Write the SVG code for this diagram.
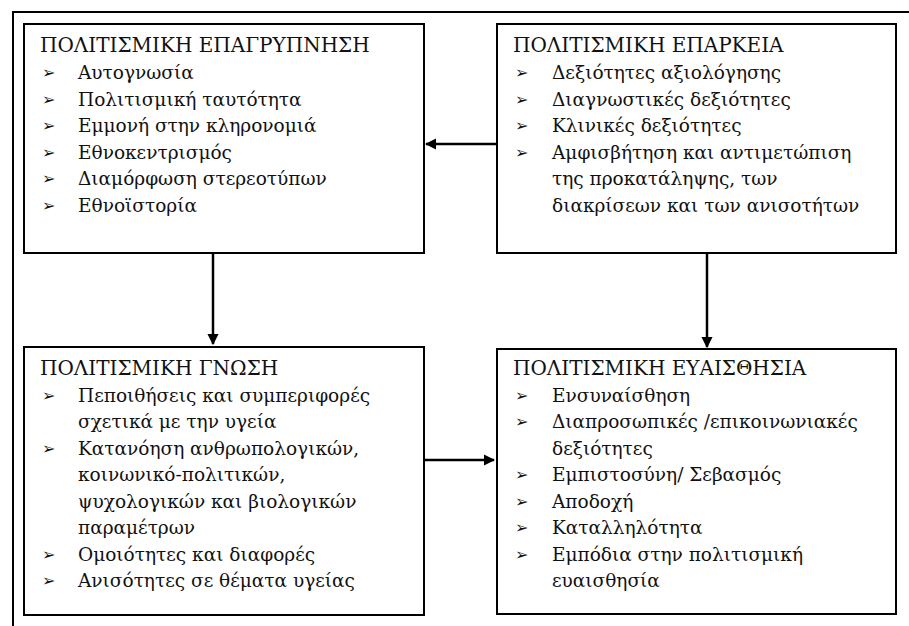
<svg xmlns="http://www.w3.org/2000/svg" width="909" height="626" viewBox="0 0 909 626">
<defs>
<style>
.box{fill:#fff;stroke:#000;stroke-width:2}
.t{font-family:"DejaVu Serif",serif;font-size:18.5px;fill:#111}
.h{font-family:"DejaVu Serif",serif;font-size:20px;fill:#111}
.b{font-family:"DejaVu Sans",sans-serif;font-size:16px;fill:#111}
.c{stroke:#000;stroke-width:2.5;fill:none}
</style>
<marker id="ah" viewBox="0 0 10 10" refX="9" refY="5" markerWidth="4.5" markerHeight="4.5" orient="auto" markerUnits="strokeWidth">
<path d="M0,0 L10,5 L0,10 z" fill="#000"/>
</marker>
</defs>
<rect width="909" height="626" fill="#fff"/>
<path d="M13,626 V12 H909" fill="none" stroke="#000" stroke-width="2"/>
<g id="connectors">
<line class="c" x1="497" y1="144" x2="426" y2="144" marker-end="url(#ah)"/>
<line class="c" x1="213" y1="253" x2="213" y2="344" marker-end="url(#ah)"/>
<line class="c" x1="707" y1="253" x2="707" y2="347" marker-end="url(#ah)"/>
<line class="c" x1="424" y1="460" x2="494" y2="460" marker-end="url(#ah)"/>
</g>
<g id="n1">
<rect class="box" x="24" y="24" width="400" height="229"/>
<text class="h" x="40" y="52">ΠΟΛΙΤΙΣΜΙΚΗ ΕΠΑΓΡΥΠΝΗΣΗ</text>
<text class="b" x="42" y="78">➢</text><text class="t" x="78" y="79">Αυτογνωσία</text>
<text class="b" x="42" y="104.5">➢</text><text class="t" x="78" y="105.5">Πολιτισμική ταυτότητα</text>
<text class="b" x="42" y="131">➢</text><text class="t" x="78" y="132">Εμμονή στην κληρονομιά</text>
<text class="b" x="42" y="157.5">➢</text><text class="t" x="78" y="158.5">Εθνοκεντρισμός</text>
<text class="b" x="42" y="184">➢</text><text class="t" x="78" y="185">Διαμόρφωση στερεοτύπων</text>
<text class="b" x="42" y="210.5">➢</text><text class="t" x="78" y="211.5">Εθνοϊστορία</text>
</g>
<g id="n2">
<rect class="box" x="497" y="24" width="399" height="229"/>
<text class="h" x="513" y="52">ΠΟΛΙΤΙΣΜΙΚΗ ΕΠΑΡΚΕΙΑ</text>
<text class="b" x="515" y="78">➢</text><text class="t" x="552" y="79">Δεξιότητες αξιολόγησης</text>
<text class="b" x="515" y="104.5">➢</text><text class="t" x="552" y="105.5">Διαγνωστικές δεξιότητες</text>
<text class="b" x="515" y="131">➢</text><text class="t" x="552" y="132">Κλινικές δεξιότητες</text>
<text class="b" x="515" y="157.5">➢</text><text class="t" x="552" y="158.5">Αμφισβήτηση και αντιμετώπιση</text>
<text class="t" x="552" y="185">της προκατάληψης, των</text>
<text class="t" x="552" y="211.5">διακρίσεων και των ανισοτήτων</text>
</g>
<g id="n3">
<rect class="box" x="24" y="347" width="400" height="268"/>
<text class="h" x="40" y="375">ΠΟΛΙΤΙΣΜΙΚΗ ΓΝΩΣΗ</text>
<text class="b" x="42" y="400.5">➢</text><text class="t" x="78" y="401.5">Πεποιθήσεις και συμπεριφορές</text>
<text class="t" x="78" y="428">σχετικά με την υγεία</text>
<text class="b" x="42" y="453.5">➢</text><text class="t" x="78" y="454.5">Κατανόηση ανθρωπολογικών,</text>
<text class="t" x="78" y="481">κοινωνικό-πολιτικών,</text>
<text class="t" x="78" y="507.5">ψυχολογικών και βιολογικών</text>
<text class="t" x="78" y="534">παραμέτρων</text>
<text class="b" x="42" y="559.5">➢</text><text class="t" x="78" y="560.5">Ομοιότητες και διαφορές</text>
<text class="b" x="42" y="586">➢</text><text class="t" x="78" y="587">Ανισότητες σε θέματα υγείας</text>
</g>
<g id="n4">
<rect class="box" x="497" y="349" width="399" height="265"/>
<text class="h" x="513" y="375">ΠΟΛΙΤΙΣΜΙΚΗ ΕΥΑΙΣΘΗΣΙΑ</text>
<text class="b" x="515" y="400.5">➢</text><text class="t" x="552" y="401.5">Ενσυναίσθηση</text>
<text class="b" x="515" y="427">➢</text><text class="t" x="552" y="428">Διαπροσωπικές /επικοινωνιακές</text>
<text class="t" x="552" y="454.5">δεξιότητες</text>
<text class="b" x="515" y="480">➢</text><text class="t" x="552" y="481">Εμπιστοσύνη/ Σεβασμός</text>
<text class="b" x="515" y="506.5">➢</text><text class="t" x="552" y="507.5">Αποδοχή</text>
<text class="b" x="515" y="533">➢</text><text class="t" x="552" y="534">Καταλληλότητα</text>
<text class="b" x="515" y="559.5">➢</text><text class="t" x="552" y="560.5">Εμπόδια στην πολιτισμική</text>
<text class="t" x="552" y="587">ευαισθησία</text>
</g>
</svg>
